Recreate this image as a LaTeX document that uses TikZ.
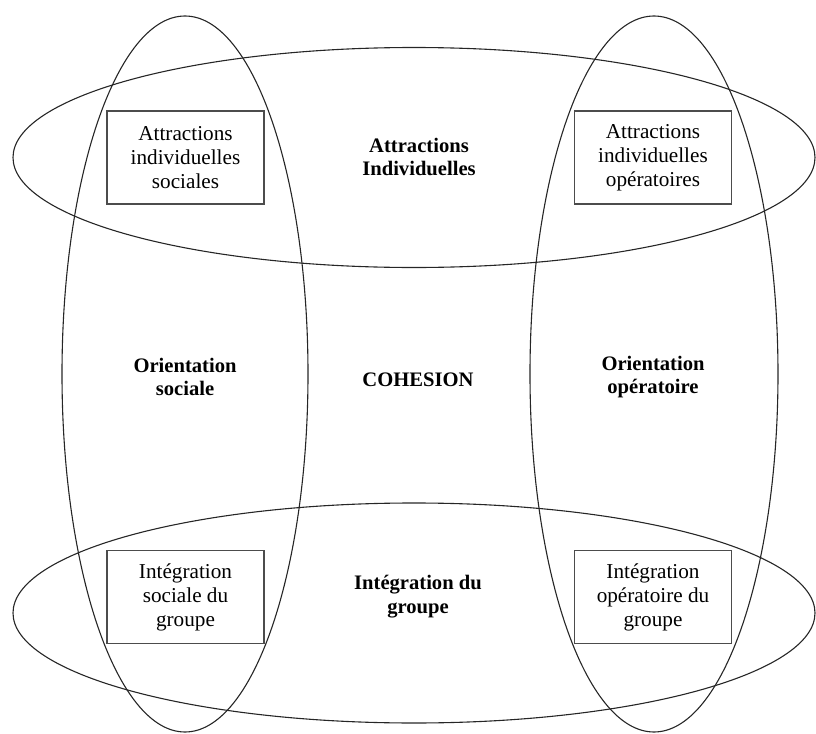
\documentclass[tikz,border=0pt]{standalone}
\usepackage{fontspec}
\setmainfont{Liberation Serif}
\usetikzlibrary{shapes.geometric}
\begin{document}
\begin{tikzpicture}[x=0.5pt,y=-0.5pt,
  ring/.style={ellipse, draw=black!85, line width=0.55pt, inner sep=0pt},
  boxnode/.style={draw=black!70, line width=0.65pt, minimum width=78.5pt, minimum height=46.5pt, align=center, inner sep=0pt, font=\fontsize{10.6}{12}\selectfont},
  lab/.style={align=center, inner sep=0pt, font=\bfseries\fontsize{10.3}{11.9}\selectfont}]
\useasboundingbox (0,0) rectangle (816,734);
% ellipses
\node[ring, minimum width=401pt, minimum height=110pt] (etop) at (414,157.5) {};
\node[ring, minimum width=401pt, minimum height=110pt] (ebot) at (414,613) {};
\node[ring, minimum width=123pt, minimum height=358pt] (eleft) at (185,374) {};
\node[ring, minimum width=124pt, minimum height=358pt] (eright) at (654,374) {};
% boxes
\node[boxnode] (b1) at (185.5,157.5) {Attractions\\individuelles\\sociales};
\node[boxnode] (b2) at (653,157.5) {Attractions\\individuelles\\opératoires};
\node[boxnode] (b3) at (185.5,597) {Intégration\\sociale du\\groupe};
\node[boxnode] (b4) at (653,597) {Intégration\\opératoire du\\groupe};
% labels
\node[lab] (l1) at (419,157) {Attractions\\Individuelles};
\node[lab] (l2) at (185,377) {Orientation\\sociale};
\node[lab] (l3) at (418,380) {COHESION};
\node[lab] (l4) at (653,377) {Orientation\\opératoire};
\node[lab] (l5) at (418,597) {Intégration du\\groupe};
\end{tikzpicture}
\end{document}
